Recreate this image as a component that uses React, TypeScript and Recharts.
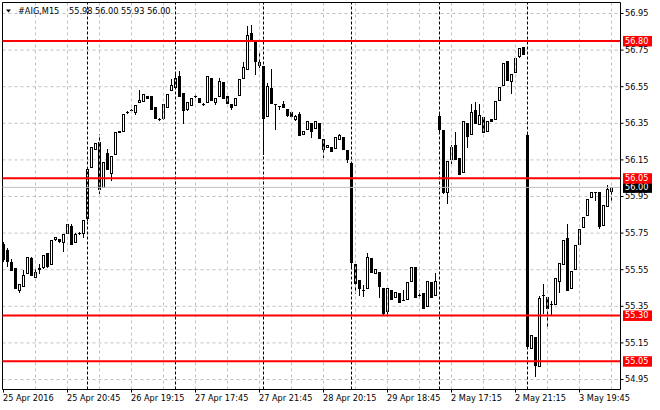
import React from 'react';
import { ComposedChart, Bar, XAxis, YAxis, CartesianGrid, ReferenceLine } from 'recharts';

const opens = [
  55.69, 55.66, 55.59, 55.56, 55.44, 55.46, 55.53, 55.615, 55.51, 55.555,
  55.565, 55.64, 55.58, 55.72, 55.72, 55.70, 55.75, 55.79, 55.70, 55.75,
  55.75, 55.83, 56.11, 56.21, 56.25, 56.00, 56.19, 56.08, 56.18, 56.31,
  56.31, 56.41, 56.425, 56.41, 56.465, 56.47, 56.50, 56.50, 56.44, 56.375,
  56.38, 56.44, 56.53, 56.55, 56.61, 56.515, 56.43, 56.45, 56.50, 56.49,
  56.455, 56.465, 56.60, 56.467, 56.50, 56.575, 56.50, 56.455, 56.45, 56.502,
  56.60, 56.648, 56.844, 56.80, 56.686, 56.662, 56.39, 56.542, 56.455, 56.444,
  56.455, 56.43, 56.41, 56.373, 56.40, 56.29, 56.32, 56.35, 56.322, 56.351,
  56.264, 56.22, 56.22, 56.213, 56.264, 56.275, 56.204, 56.131, 55.58, 55.495,
  55.44, 55.449, 55.615, 55.531, 55.54, 55.451, 55.322, 55.439, 55.40, 55.42,
  55.386, 55.39, 55.49, 55.564, 55.41, 55.42, 55.35, 55.484, 55.41, 56.391,
  56.313, 55.975, 56.153, 56.229, 56.162, 56.082, 56.349, 56.29, 56.42, 56.346,
  56.384, 56.31, 56.373, 56.371, 56.48, 56.562, 56.693, 56.58, 56.631, 56.72,
  56.768, 56.284, 55.124, 55.182, 55.022, 55.41, 55.40, 55.36, 55.362, 55.49,
  55.58, 55.722, 55.449, 55.553, 55.69, 55.782, 55.851, 55.95, 55.977, 55.973,
  55.797, 55.90, 55.98,
];

const highs = [
  55.70, 55.67, 55.61, 55.56, 55.47, 55.55, 55.62, 55.62, 55.56, 55.58,
  55.63, 55.64, 55.71, 55.73, 55.72, 55.745, 55.80, 55.80, 55.75, 55.755,
  55.82, 56.10, 56.22, 56.24, 56.29, 56.14, 56.21, 56.17, 56.30, 56.31,
  56.40, 56.415, 56.43, 56.45, 56.53, 56.51, 56.50, 56.50, 56.44, 56.38,
  56.455, 56.51, 56.59, 56.62, 56.635, 56.515, 56.465, 56.49, 56.505, 56.49,
  56.46, 56.61, 56.60, 56.49, 56.60, 56.575, 56.50, 56.455, 56.49, 56.59,
  56.686, 56.88, 56.887, 56.80, 56.74, 56.662, 56.568, 56.646, 56.455, 56.444,
  56.47, 56.43, 56.41, 56.395, 56.413, 56.31, 56.36, 56.35, 56.36, 56.351,
  56.264, 56.23, 56.22, 56.273, 56.29, 56.275, 56.204, 56.131, 55.58, 55.495,
  55.464, 55.64, 55.615, 55.553, 55.54, 55.451, 55.451, 55.439, 55.43, 55.42,
  55.437, 55.482, 55.564, 55.564, 55.44, 55.42, 55.49, 55.484, 55.53, 56.40,
  56.313, 56.142, 56.231, 56.302, 56.162, 56.36, 56.349, 56.458, 56.464, 56.453,
  56.384, 56.36, 56.373, 56.471, 56.551, 56.682, 56.693, 56.622, 56.707, 56.76,
  56.768, 56.29, 55.193, 55.182, 55.404, 55.47, 55.40, 55.38, 55.504, 55.589,
  55.711, 55.80, 55.542, 55.684, 55.771, 55.84, 55.938, 55.973, 55.977, 55.973,
  55.902, 56.015, 56.00,
];

const lows = [
  55.60, 55.57, 55.55, 55.45, 55.43, 55.46, 55.53, 55.52, 55.51, 55.53,
  55.56, 55.565, 55.58, 55.71, 55.70, 55.65, 55.75, 55.69, 55.70, 55.745,
  55.73, 55.82, 56.11, 56.21, 55.97, 56.00, 56.10, 56.04, 56.18, 56.30,
  56.31, 56.405, 56.42, 56.40, 56.465, 56.47, 56.49, 56.43, 56.38, 56.37,
  56.375, 56.44, 56.53, 56.55, 56.50, 56.35, 56.42, 56.45, 56.495, 56.465,
  56.45, 56.465, 56.477, 56.453, 56.50, 56.49, 56.462, 56.43, 56.45, 56.502,
  56.60, 56.648, 56.81, 56.62, 56.66, 56.18, 56.39, 56.46, 56.32, 56.43,
  56.437, 56.39, 56.39, 56.37, 56.284, 56.29, 56.32, 56.273, 56.322, 56.271,
  56.168, 56.22, 56.20, 56.213, 56.264, 56.211, 56.14, 55.558, 55.42, 55.41,
  55.408, 55.449, 55.54, 55.531, 55.40, 55.31, 55.31, 55.39, 55.40, 55.375,
  55.386, 55.39, 55.49, 55.40, 55.40, 55.339, 55.35, 55.40, 55.41, 56.31,
  55.97, 55.913, 56.131, 56.153, 56.071, 56.082, 56.218, 56.29, 56.35, 56.346,
  56.30, 56.31, 56.36, 56.371, 56.48, 56.562, 56.587, 56.513, 56.631, 56.71,
  56.731, 55.13, 55.124, 54.971, 55.022, 55.313, 55.24, 55.31, 55.362, 55.43,
  55.58, 55.44, 55.449, 55.553, 55.69, 55.782, 55.851, 55.95, 55.931, 55.78,
  55.797, 55.90, 55.93,
];

const closes = [
  55.61, 55.60, 55.55, 55.45, 55.47, 55.52, 55.62, 55.52, 55.54, 55.557,
  55.63, 55.57, 55.71, 55.73, 55.705, 55.745, 55.80, 55.69, 55.745, 55.75,
  55.82, 56.10, 56.22, 56.24, 55.99, 56.14, 56.10, 56.17, 56.30, 56.30,
  56.40, 56.41, 56.425, 56.45, 56.48, 56.51, 56.49, 56.43, 56.38, 56.375,
  56.455, 56.51, 56.56, 56.60, 56.50, 56.42, 56.465, 56.49, 56.50, 56.465,
  56.455, 56.61, 56.477, 56.49, 56.58, 56.49, 56.462, 56.437, 56.49, 56.59,
  56.66, 56.83, 56.811, 56.69, 56.668, 56.38, 56.553, 56.462, 56.453, 56.444,
  56.437, 56.395, 56.39, 56.391, 56.284, 56.31, 56.36, 56.31, 56.36, 56.271,
  56.21, 56.23, 56.20, 56.273, 56.284, 56.211, 56.153, 55.591, 55.477, 55.448,
  55.44, 55.619, 55.54, 55.553, 55.459, 55.313, 55.451, 55.39, 55.43, 55.375,
  55.386, 55.482, 55.564, 55.40, 55.41, 55.339, 55.49, 55.40, 55.49, 56.32,
  55.977, 56.142, 56.22, 56.153, 56.071, 56.36, 56.282, 56.41, 56.35, 56.393,
  56.30, 56.36, 56.36, 56.471, 56.551, 56.682, 56.587, 56.622, 56.707, 56.76,
  56.731, 55.135, 55.193, 55.03, 55.398, 55.41, 55.339, 55.36, 55.504, 55.589,
  55.711, 55.44, 55.542, 55.684, 55.771, 55.84, 55.938, 55.973, 55.977, 55.791,
  55.902, 55.989, 56.00,
];

const xTickIdx = [0, 16, 32, 48, 64, 80, 96, 112, 128, 144];
const xTickLabels = [
  '25 Apr 2016', '25 Apr 20:45', '26 Apr 19:15', '27 Apr 17:45', '27 Apr 21:45',
  '28 Apr 20:15', '29 Apr 18:45', '2 May 17:15', '2 May 21:15', '3 May 19:45',
];
const gridIdx = [8, 16, 24, 32, 40, 48, 56, 64, 72, 80, 88, 96, 104, 112, 120, 128, 136, 144, 152];
const separatorIdx = [21, 43, 65, 87, 109, 131];
const priceTicks = [54.95, 55.15, 55.35, 55.55, 55.75, 55.95, 56.15, 56.35, 56.55, 56.75, 56.95];
const levelPrices = [56.8, 56.05, 55.3, 55.05];
const bidPrice = 56.0;
const titleSymbol = '#AIG,M15';
const titleQuote = [55.98, 56.0, 55.93, 56.0];

const X_DOMAIN: [number, number] = [-0.25, 154.25];
const Y_DOMAIN: [number, number] = [54.8954, 57.0101];

const FONT = "'DejaVu Sans', sans-serif";
const FS = 8.2;

const data = opens.map((o, i) => ({
  i,
  open: o,
  high: highs[i],
  low: lows[i],
  close: closes[i],
  range: [lows[i], highs[i]],
}));

function Candle(props: any) {
  const { x, y, width, height, payload } = props;
  if (payload == null || x == null || y == null) return null;
  const cx = Math.floor(x + width / 2) + 0.5;
  const top = Math.min(y, y + height);
  const h = Math.abs(height);
  const { open, close, high, low } = payload;
  const span = high - low;
  const py = (v: number) => (span > 0 ? top + ((high - v) / span) * h : top);
  const yHigh = Math.round(top);
  const yLow = Math.round(top + h);
  const yo = Math.round(py(open));
  const yc = Math.round(py(close));
  const bTop = Math.min(yo, yc);
  const bBot = Math.max(yo, yc);
  const ln = (y1: number, y2: number, k: string) =>
    y2 > y1 ? (
      <line key={k} x1={cx} x2={cx} y1={y1} y2={y2} stroke="#000" strokeWidth={1} shapeRendering="crispEdges" />
    ) : null;
  if (close > open && bBot - bTop >= 2) {
    return (
      <g>
        {ln(yHigh, bTop, 'u')}
        {ln(bBot + 1, yLow + 1, 'd')}
        <rect x={cx - 1} y={bTop + 0.5} width={2} height={bBot - bTop} fill="#fff" stroke="#000" strokeWidth={1} shapeRendering="crispEdges" />
      </g>
    );
  }
  return (
    <g>
      {ln(yHigh, yLow + 1, 'w')}
      <rect x={cx - 1.5} y={bTop} width={3} height={bBot - bTop + 1} fill="#000" shapeRendering="crispEdges" />
    </g>
  );
}

function XTick(props: any) {
  const { x, y, payload } = props;
  const idx = xTickIdx.indexOf(payload.value);
  return (
    <text x={x - 0.5} y={y + 6.5} fontSize={FS} fontFamily={FONT} fill="#000" textAnchor="start">
      {idx >= 0 ? xTickLabels[idx] : ''}
    </text>
  );
}

function tag(viewBox: any, text: string, bg: string) {
  if (!viewBox) return null;
  const rx = viewBox.x + viewBox.width + 2.5;
  const ly = viewBox.y;
  return (
    <g>
      <rect x={rx} y={ly - 5} width={29} height={10.5} fill={bg} />
      <text x={rx + 2} y={ly} dy="0.36em" fontSize={FS} fontFamily={FONT} fill="#fff">
        {text}
      </text>
    </g>
  );
}

export default function App() {
  return (
    <div style={{ position: 'absolute', left: 0, top: 0, width: 660, height: 410, background: '#fff' }}>
      <ComposedChart
        width={660}
        height={410}
        data={data}
        margin={{ top: 2.5, right: 0, bottom: 0, left: 2.5 }}
      >
        <CartesianGrid horizontal vertical={false} stroke="#c0c0c0" strokeDasharray="3 3" />
        <XAxis
          type="number"
          dataKey="i"
          domain={X_DOMAIN}
          allowDataOverflow
          ticks={xTickIdx}
          interval={0}
          height={20.5}
          tickSize={3}
          tickMargin={2}
          axisLine={{ stroke: '#000' }}
          tickLine={{ stroke: '#000' }}
          tick={<XTick />}
        />
        <YAxis
          orientation="right"
          type="number"
          domain={Y_DOMAIN}
          allowDataOverflow
          ticks={priceTicks}
          interval={0}
          width={39.5}
          tickSize={3}
          tickMargin={1.5}
          axisLine={{ stroke: '#000' }}
          tickLine={{ stroke: '#000' }}
          tick={{ fill: '#000', fontSize: FS, fontFamily: FONT }}
          tickFormatter={(v: number) => v.toFixed(2)}
        />
        {gridIdx.map((g) => (
          <ReferenceLine key={'g' + g} x={g} stroke="#c0c0c0" strokeDasharray="3 3" />
        ))}
        {separatorIdx.map((s) => (
          <ReferenceLine key={'s' + s} x={s} stroke="#000" strokeDasharray="3 2" />
        ))}
        <ReferenceLine y={Y_DOMAIN[1]} stroke="#000" />
        <ReferenceLine x={X_DOMAIN[0]} stroke="#000" />
        <Bar dataKey="range" barSize={3} isAnimationActive={false} shape={(p: any) => <Candle {...p} />} />
        <ReferenceLine
          y={bidPrice}
          stroke="#c0c0c0"
          label={(p: any) => tag(p.viewBox, bidPrice.toFixed(2), '#000')}
        />
        {levelPrices.map((lv) => (
          <ReferenceLine
            key={'l' + lv}
            y={lv}
            stroke="#ff0000"
            strokeWidth={2}
            label={(p: any) => tag(p.viewBox, lv.toFixed(2), '#ff0000')}
          />
        ))}
      </ComposedChart>
      <svg
        width={660}
        height={20}
        style={{ position: 'absolute', left: 0, top: 0, pointerEvents: 'none' }}
      >
        <polygon points="6,9.5 11,9.5 8.5,12.5" fill="#000" />
        <text x={18} y={14} fontSize={FS} fontFamily={FONT} fill="#000">
          {titleSymbol}
        </text>
        <text x={69} y={14} fontSize={FS} fontFamily={FONT} fill="#000">
          {titleQuote.map((q) => q.toFixed(2)).join(' ')}
        </text>
      </svg>
    </div>
  );
}
